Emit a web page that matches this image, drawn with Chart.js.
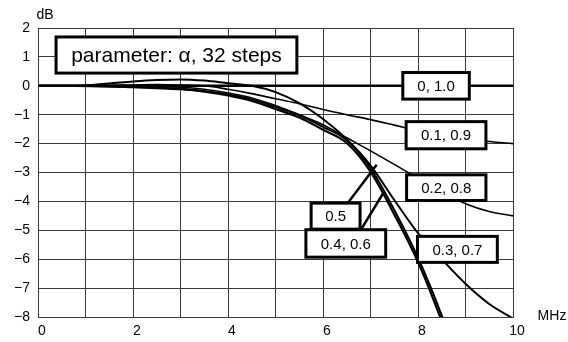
<!DOCTYPE html>
<html>
<head>
<meta charset="utf-8">
<script src="https://cdn.jsdelivr.net/npm/chart.js@4"></script>
<style>
  body { margin: 0; background: #fff; }
</style>
</head>
<body>
<canvas id="grafico" width="568" height="342"></canvas>
<script>
// ===================== DADOS =====================

const freqMHz = [0, 0.8, 1.5, 2, 2.5, 3, 3.5, 4, 4.5, 5, 5.5, 6, 6.5, 7, 7.5, 8, 8.5, 9, 9.5, 10];

const alpha00 = [0, 0, 0, 0, 0, 0, 0, 0, 0, 0, 0, 0, 0, 0, 0, 0, 0, 0, 0, 0];
const alpha01 = [0, 0, 0.02, 0.03, 0.04, 0.03, 0, -0.12, -0.27, -0.45, -0.62, -0.82, -1.0, -1.17, -1.36, -1.55, -1.7, -1.82, -1.93, -2.0];
const alpha02 = [0, 0, -0.01, -0.02, -0.03, -0.05, -0.12, -0.25, -0.42, -0.68, -1.0, -1.35, -1.8, -2.25, -2.72, -3.2, -3.68, -4.08, -4.35, -4.5];
const alpha03 = [0, 0, 0.08, 0.15, 0.2, 0.22, 0.18, 0.09, 0, -0.22, -0.6, -1.15, -1.85, -2.75, -3.95, -5.1, -6.0, -6.85, -7.55, -8.05];
const alpha04 = [0, 0, -0.02, -0.04, -0.07, -0.1, -0.18, -0.3, -0.47, -0.73, -1.02, -1.42, -1.88, -2.85, -4.3, -5.95, -7.95, -10.3, -12.8, -15.3];
const alpha05 = [0, 0, -0.02, -0.05, -0.08, -0.12, -0.2, -0.33, -0.52, -0.8, -1.1, -1.52, -1.98, -2.97, -4.45, -6.1, -8.15, -10.5, -13, -15.5];

const yTicks = [2, 1, 0, -1, -2, -3, -4, -5, -6, -7, -8];
const xTicks = [0, 2, 4, 6, 8, 10];

// caixas de texto (em unidades dos eixos)
const caixas = [
  { texto: "parameter: \u03b1, 32 steps", x0: 0.38, x1: 5.45, y0: 1.69, y1: 0.44, fonte: 21 },
  { texto: "0, 1.0", x0: 7.68, x1: 9.08, y0: 0.46, y1: -0.46, fonte: 15 },
  { texto: "0.1, 0.9", x0: 7.75, x1: 9.43, y0: -1.24, y1: -2.18, fonte: 15 },
  { texto: "0.2, 0.8", x0: 7.76, x1: 9.43, y0: -3.08, y1: -3.97, fonte: 15 },
  { texto: "0.5", x0: 5.75, x1: 6.78, y0: -4.06, y1: -4.96, fonte: 15 },
  { texto: "0.4, 0.6", x0: 5.64, x1: 7.32, y0: -4.98, y1: -5.93, fonte: 15 },
  { texto: "0.3, 0.7", x0: 7.99, x1: 9.67, y0: -5.21, y1: -6.11, fonte: 15 },
];

const setas = [
  { x0: 6.53, y0: -4.04, x1: 7.13, y1: -2.73 },
  { x0: 6.81, y0: -4.95, x1: 7.27, y1: -3.71 },
];

//===================== GRAFICO =======================

function serie(valores, largura) {
  return {
    data: freqMHz.map((f, i) => ({ x: f, y: valores[i] })),
    borderColor: "#000",
    borderWidth: largura,
    pointRadius: 0,
    fill: false,
    cubicInterpolationMode: "monotone",
  };
}

const anotacoes = {
  id: "anotacoes",
  afterDatasetsDraw(chart) {
    const c = chart.ctx;
    const sx = chart.scales.x;
    const sy = chart.scales.y;
    c.save();
    c.strokeStyle = "#000";
    c.lineWidth = 2.5;
    setas.forEach((s) => {
      c.beginPath();
      c.moveTo(sx.getPixelForValue(s.x0), sy.getPixelForValue(s.y0));
      c.lineTo(sx.getPixelForValue(s.x1), sy.getPixelForValue(s.y1));
      c.stroke();
    });
    caixas.forEach((b) => {
      const l = sx.getPixelForValue(b.x0);
      const r = sx.getPixelForValue(b.x1);
      const t = sy.getPixelForValue(b.y0);
      const bt = sy.getPixelForValue(b.y1);
      c.fillStyle = "#fff";
      c.fillRect(l, t, r - l, bt - t);
      c.lineWidth = 3;
      c.strokeRect(l, t, r - l, bt - t);
      c.fillStyle = "#000";
      c.font = b.fonte + "px 'Liberation Sans', Arial, sans-serif";
      c.textAlign = "center";
      c.textBaseline = "middle";
      c.fillText(b.texto, (l + r) / 2, (t + bt) / 2 + 1);
    });
    c.font = "14px 'Liberation Sans', Arial, sans-serif";
    c.textAlign = "center";
    c.fillText("dB", 45, 15);
    c.fillText("MHz", 552, 316);
    c.restore();
  },
};

new Chart(document.getElementById("grafico"), {
  type: "line",
  data: {
    datasets: [
      serie(alpha01, 1.6),
      serie(alpha02, 1.6),
      serie(alpha03, 2),
      serie(alpha04, 2),
      serie(alpha05, 2.2),
      serie(alpha00, 2.6),
    ],
  },
  options: {
    responsive: false,
    animation: false,
    layout: { padding: { left: 0, right: 55, top: 28, bottom: 0 } },
    plugins: { legend: { display: false }, tooltip: { enabled: false } },
    scales: {
      x: {
        type: "linear",
        min: 0,
        max: 10,
        afterFit(scale) { scale.height = 25; },
        afterBuildTicks(scale) {
          scale.ticks = [0, 1, 2, 3, 4, 5, 6, 7, 8, 9, 10].map((v) => ({ value: v }));
        },
        grid: { color: "#3a3a3a", lineWidth: 1, drawTicks: false },
        border: { color: "#3a3a3a" },
        ticks: {
          color: "#000",
          font: { family: "'Liberation Sans', Arial", size: 14 },
          padding: 6,
          labelOffset: 4,
          maxRotation: 0,
          autoSkip: false,
          callback: (v) => (xTicks.includes(v) ? String(v) : ""),
        },
      },
      y: {
        min: -8,
        max: 2,
        afterFit(scale) { scale.width = 38; },
        afterBuildTicks(scale) {
          scale.ticks = yTicks.map((v) => ({ value: v }));
        },
        grid: { color: "#3a3a3a", lineWidth: 1, drawTicks: false },
        border: { color: "#3a3a3a" },
        ticks: {
          color: "#000",
          font: { family: "'Liberation Sans', Arial", size: 14 },
          padding: 8,
          callback: (v) => String(v).replace("-", "\u2212"),
        },
      },
    },
  },
  plugins: [anotacoes],
});
</script>
</body>
</html>
